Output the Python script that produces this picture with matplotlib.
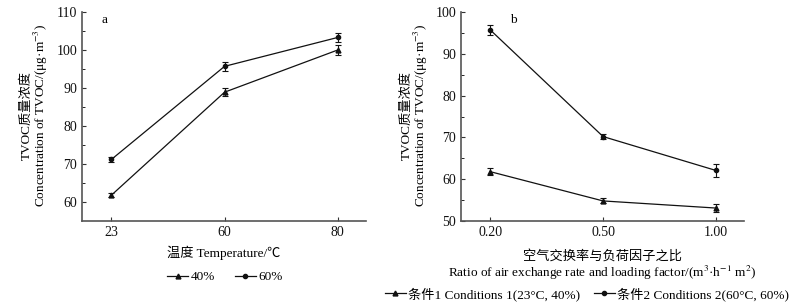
import matplotlib
matplotlib.use("Agg")
import matplotlib.pyplot as plt
from matplotlib.lines import Line2D

plt.rcParams['font.family'] = ['Liberation Serif', 'Noto Sans CJK SC']
plt.rcParams['mathtext.fontset'] = 'stix'

# Panel a data
temp_labels = ['23', '60', '80']
a_40 = [61.8, 88.9, 100.0]
a_40_err = [0.6, 1.0, 1.2]
a_60 = [71.2, 95.7, 103.3]
a_60_err = [0.7, 1.2, 1.1]

# Panel b data
ratio_labels = ['0.20', '0.50', '1.00']
b_c1 = [61.8, 54.8, 53.1]
b_c1_err = [0.8, 0.6, 1.0]
b_c2 = [95.7, 70.2, 62.1]
b_c2_err = [1.2, 0.7, 1.5]

W, H = 802, 305
fig = plt.figure(figsize=(W / 100, H / 100), dpi=100)

def px_axes(l, r, t, b):
    return fig.add_axes([l / W, 1 - b / H, (r - l) / W, (b - t) / H])

ax1 = px_axes(82, 366, 12, 221)
ax2 = px_axes(461, 744, 12, 221)

fs = 9.5
col = '#111111'

def style(ax):
    for s in ['top', 'right']:
        ax.spines[s].set_visible(False)
    for s in ['left', 'bottom']:
        ax.spines[s].set_color('#555555')
        ax.spines[s].set_linewidth(1.2)
    ax.tick_params(axis='both', direction='in', length=3, width=0.8,
                   labelsize=10, colors='#333333', labelcolor='#111111')
    ax.tick_params(axis='y', which='minor', direction='in', length=2, width=0.6)
    ax.set_xlim(-0.26, 2.25)

def plot_series(ax, y, err, marker, ms):
    x = list(range(len(y)))
    ax.errorbar(x, y, yerr=err, color=col, lw=0.9, marker=marker, ms=ms,
                capsize=2.5, elinewidth=0.8, capthick=0.8)

# Panel a
plot_series(ax1, a_40, a_40_err, '^', 3.5)
plot_series(ax1, a_60, a_60_err, 'o', 3)
style(ax1)
ax1.set_ylim(55, 110)
ax1.set_yticks([60, 70, 80, 90, 100, 110])
ax1.set_yticks([65, 75, 85, 95, 105], minor=True)
ax1.set_xticks(range(3))
ax1.set_xticklabels(temp_labels)

fig.text(26 / W, 1 - 115 / H, 'TVOC质量浓度', rotation=90, ha='center', va='center', fontsize=fs)
fig.text(41 / W, 1 - 115 / H, 'Concentration of TVOC/(μg·m$^{-3}$)', rotation=90,
         ha='center', va='center', fontsize=fs)
fig.text(224 / W, 1 - 253 / H, '温度 Temperature/℃', ha='center', va='center', fontsize=fs)

# Panel b
plot_series(ax2, b_c1, b_c1_err, '^', 3.5)
plot_series(ax2, b_c2, b_c2_err, 'o', 3)
style(ax2)
ax2.set_ylim(50, 100)
ax2.set_yticks([50, 60, 70, 80, 90, 100])
ax2.set_yticks([55, 65, 75, 85, 95], minor=True)
ax2.set_xticks(range(3))
ax2.set_xticklabels(ratio_labels)

fig.text(406 / W, 1 - 115 / H, 'TVOC质量浓度', rotation=90, ha='center', va='center', fontsize=fs)
fig.text(421 / W, 1 - 115 / H, 'Concentration of TVOC/(μg·m$^{-3}$)', rotation=90,
         ha='center', va='center', fontsize=fs)
fig.text(602 / W, 1 - 256 / H, '空气交换率与负荷因子之比', ha='center', va='center', fontsize=fs)
fig.text(602 / W, 1 - 273 / H,
         'Ratio of air exchange rate and loading factor/(m$^{3}$·h$^{-1}$ m$^{2}$)',
         ha='center', va='center', fontsize=fs)

# panel letters
fig.text(105 / W, 1 - 20 / H, 'a', ha='center', va='center', fontsize=fs)
fig.text(513 / W, 1 - 20 / H, 'b', ha='center', va='center', fontsize=fs)

# Legends
h_tri = Line2D([], [], color=col, lw=0.9, marker='^', ms=3.5)
h_cir = Line2D([], [], color=col, lw=0.9, marker='o', ms=3)
fig.legend([h_tri, h_cir], ['40%', '60%'], loc='center', bbox_to_anchor=(225 / W, 1 - 277 / H),
           ncol=2, frameon=False, fontsize=fs, handlelength=1.6, handletextpad=0.2,
           columnspacing=1.5, borderpad=0)
fig.legend([h_tri, h_cir],
           ['条件1 Conditions 1(23°C, 40%)', '条件2 Conditions 2(60°C, 60%)'],
           loc='center', bbox_to_anchor=(587 / W, 1 - 294 / H),
           ncol=2, frameon=False, fontsize=fs, handlelength=1.6, handletextpad=0.2,
           columnspacing=1.0, borderpad=0)

fig.savefig('out.png', dpi=100)
